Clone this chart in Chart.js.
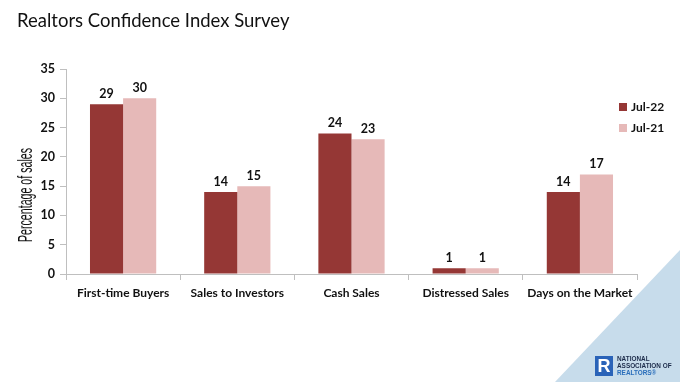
<!DOCTYPE html>
<html>
<head>
<meta charset="utf-8">
<script src="https://cdn.jsdelivr.net/npm/chart.js@4/dist/chart.umd.min.js"></script>
<style>
  html, body { margin: 0; padding: 0; background: #fff; }
  #wrap { position: relative; width: 680px; height: 382px; overflow: hidden; background: #fff; }
  #tri { position: absolute; left: 0; top: 0; }
  #chart { position: absolute; left: 0; top: 0; }
  #title { position: absolute; left: 17px; top: 9px; margin: 0; font: 400 18.5px Lato, "Open Sans", sans-serif; color: #111; white-space: nowrap; }
  .leg { position: absolute; left: 619px; font: 700 12px Lato, sans-serif; color: #111; display: flex; align-items: center; }
  .leg i { display: inline-block; width: 8px; height: 8px; margin-right: 4px; }
  #logo { position: absolute; left: 595px; top: 356px; display: flex; align-items: center; }
  #logo .box { width: 18px; height: 20px; background: #2a63b8; color: #fff; font: 700 18px "Liberation Sans", sans-serif; line-height: 20px; text-align: center; }
  #logo .txt { margin-left: 4px; font: 700 6.4px "Liberation Sans", sans-serif; line-height: 6.8px; color: #1c2b4a; }
  #logo .txt span { color: #2a6ebb; }
</style>
</head>
<body>
<div id="wrap">
  <svg id="tri" width="680" height="382"><polygon points="680,250 680,382 555,382" fill="#c7dceb"/></svg>
  <canvas id="chart" width="680" height="382"></canvas>
  <h1 id="title">Realtors Confidence Index Survey</h1>
  <div class="leg" style="top:99px"><i style="background:#953735"></i>Jul-22</div>
  <div class="leg" style="top:120px"><i style="background:#e6b9b8"></i>Jul-21</div>
  <div id="logo"><div class="box">R</div><div class="txt">NATIONAL<br>ASSOCIATION OF<br><span>REALTORS®</span></div></div>
</div>
<script>
const categories = ["First-time Buyers", "Sales to Investors", "Cash Sales", "Distressed Sales", "Days on the Market"];
const jul22 = [29, 14, 24, 1, 14];
const jul21 = [30, 15, 23, 1, 17];
const yTicks = [0, 5, 10, 15, 20, 25, 30, 35];
const seriesNames = ["Jul-22", "Jul-21"];
const yTitle = "Percentage of sales";

const valueLabels = {
  id: 'valueLabels',
  afterDatasetsDraw(chart) {
    const ctx = chart.ctx;
    ctx.save();
    ctx.font = '700 12.5px Lato, sans-serif';
    ctx.fillStyle = '#111';
    ctx.textAlign = 'center';
    ctx.textBaseline = 'bottom';
    chart.data.datasets.forEach((ds, i) => {
      chart.getDatasetMeta(i).data.forEach((bar, j) => {
        ctx.fillText(String(ds.data[j]), bar.x, bar.y - 4);
      });
    });
    ctx.restore();
  }
};

const yTitlePlugin = {
  id: 'yTitlePlugin',
  afterDraw(chart) {
    const ctx = chart.ctx;
    ctx.save();
    ctx.font = '400 20px "Liberation Sans Narrow", "Liberation Sans", sans-serif';
    ctx.fillStyle = '#111';
    const w = ctx.measureText(yTitle).width;
    const target = 94;
    ctx.translate(26, 195);
    ctx.rotate(-Math.PI / 2);
    ctx.scale(target / w, 1);
    ctx.textAlign = 'center';
    ctx.textBaseline = 'middle';
    ctx.fillText(yTitle, 0, 0);
    ctx.restore();
  }
};

new Chart(document.getElementById('chart'), {
  type: 'bar',
  data: {
    labels: categories,
    datasets: [
      { label: seriesNames[0], data: jul22, backgroundColor: '#953735', borderWidth: 0 },
      { label: seriesNames[1], data: jul21, backgroundColor: '#e6b9b8', borderWidth: 0 }
    ]
  },
  options: {
    responsive: false,
    animation: false,
    maintainAspectRatio: false,
    layout: { padding: { left: 0, top: 69, right: 43, bottom: 0 } },
    datasets: { bar: { categoryPercentage: 0.58, barPercentage: 1.0 } },
    plugins: { legend: { display: false }, tooltip: { enabled: false }, title: { display: false } },
    scales: {
      x: {
        afterFit: s => { s.height = 108; },
        grid: { offset: true, drawOnChartArea: false, drawTicks: true, tickLength: 6, color: '#bfbfbf' },
        border: { color: '#bfbfbf' },
        ticks: { color: '#111', font: { family: 'Lato', weight: '700', size: 12 }, padding: 6, maxRotation: 0, autoSkip: false }
      },
      y: {
        min: 0, max: 35,
        afterFit: s => { s.width = 66; },
        afterBuildTicks: s => { s.ticks = yTicks.map(v => ({ value: v })); },
        grid: { drawOnChartArea: false, drawTicks: true, tickLength: 6, color: '#bfbfbf' },
        border: { color: '#bfbfbf' },
        ticks: { color: '#111', font: { family: 'Lato', weight: '700', size: 12.5 }, padding: 5 }
      }
    }
  },
  plugins: [valueLabels, yTitlePlugin]
});
</script>
</body>
</html>
